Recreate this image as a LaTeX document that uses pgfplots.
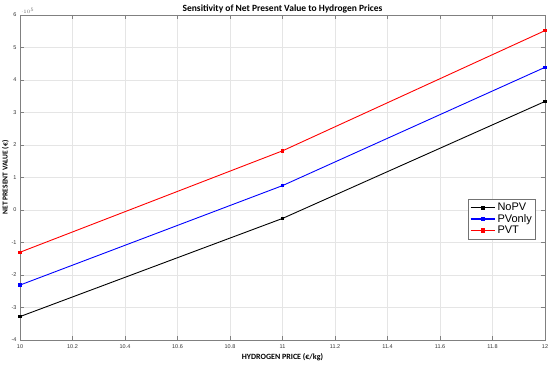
\documentclass[border=0pt]{standalone}
\usepackage{fontspec}
\setmainfont{Liberation Sans}
\newfontfamily\carlito{Carlito}
\usepackage{pgfplots}
\pgfplotsset{compat=1.18}
\begin{document}
\begin{tikzpicture}
\begin{axis}[
  name=ax,
  scale only axis,
  width=525pt, height=325pt,
  xmin=10, xmax=12, ymin=-400000, ymax=600000,
  xtick={10,10.2,...,12.01},
  ytick={-400000,-300000,...,600000},
  scaled y ticks=base 10:-5,
  scaled x ticks=false,
  xticklabel style={/pgf/number format/fixed},
  /pgf/number format/assume math mode=true,
  every y tick scale label/.style={at={(0,1)},anchor=south west,inner sep=1pt,font=\fontsize{4.5}{5}\selectfont,text=black!60},
  tick label style={font=\fontsize{5.5}{6}\selectfont, text=black!80},
  xticklabel style={yshift=-1pt},
  grid=major,
  grid style={black!10, line width=0.4pt},
  axis line style={black!50, line width=0.6pt},
  tick style={black!50, line width=0.5pt},
  major tick length=4pt,
  tick align=inside,
  title={\carlito\bfseries Sensitivity of Net Present Value to Hydrogen Prices},
  title style={font=\fontsize{9.5}{10}\selectfont, yshift=-8pt},
  xlabel={\carlito\bfseries HYDROGEN PRICE (€/kg)},
  xlabel style={font=\fontsize{8}{9}\selectfont, yshift=2pt},
  ylabel={\carlito\bfseries NET PRESENT VALUE (€)},
  ylabel style={font=\fontsize{7.5}{8}\selectfont, yshift=-4pt},
  legend style={at={(0.983,0.434)}, anchor=north east, font=\fontsize{11}{12}\selectfont, draw=black!55, line width=0.6pt, inner sep=2pt, row sep=-2pt},
  legend cell align=left,
  legend image code/.code={
    \draw[#1, line width=1.3pt] (0cm,0cm) -- (0.85cm,0cm);
    \draw[#1, fill, draw=none] (0.425cm,0cm) +(-2.2pt,-2.2pt) rectangle +(2.2pt,2.2pt);
  },
]
\addplot[black, line width=0.9pt, mark=square*, mark size=1.2pt] coordinates {(10,-328000) (11,-26000) (12,334000)};
\addlegendentry{NoPV}
\addplot[blue, line width=0.9pt, mark=square*, mark size=1.2pt] coordinates {(10,-231000) (11,75000) (12,439000)};
\addlegendentry{PVonly}
\addplot[red, line width=0.9pt, mark=square*, mark size=1.2pt] coordinates {(10,-130000) (11,182000) (12,552000)};
\addlegendentry{PVT}
\end{axis}
\pgfresetboundingbox
\path ([xshift=-20pt,yshift=-25pt]ax.south west) rectangle ([xshift=5pt,yshift=15pt]ax.north east);
\end{tikzpicture}
\end{document}
